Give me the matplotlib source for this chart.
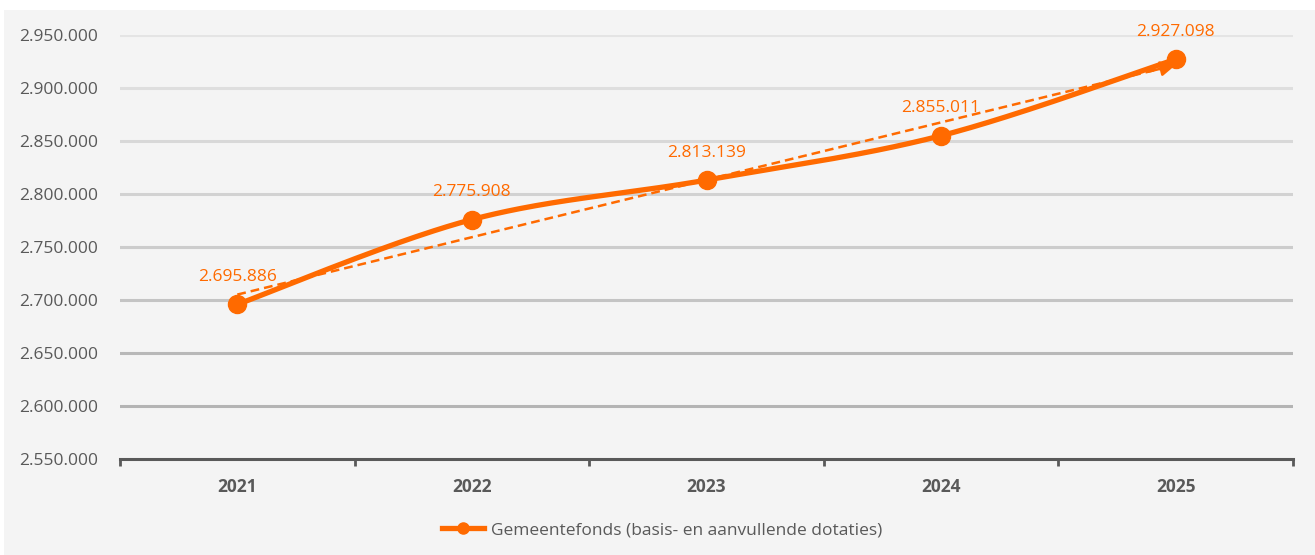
import numpy as np
import matplotlib
matplotlib.use("Agg")
import matplotlib.pyplot as plt
from matplotlib.patches import Rectangle
from matplotlib.lines import Line2D

# ---- data ----
years = ['2021', '2022', '2023', '2024', '2025']
values = [2695886, 2775908, 2813139, 2855011, 2927098]
value_labels = ['2.695.886', '2.775.908', '2.813.139', '2.855.011', '2.927.098']
yticks = [2550000, 2600000, 2650000, 2700000, 2750000, 2800000, 2850000, 2900000, 2950000]
ytick_labels = ['2.550.000', '2.600.000', '2.650.000', '2.700.000', '2.750.000',
                '2.800.000', '2.850.000', '2.900.000', '2.950.000']
series_name = 'Gemeentefonds (basis- en aanvullende dotaties)'

ORANGE = '#ff6a00'
GREY_TXT = '#595959'
FONT = 'Open Sans'
FS = 12.5

W, H = 1315, 555
fig = plt.figure(figsize=(W / 100, H / 100), dpi=100)
fig.patch.set_facecolor('white')
fig.patches.append(Rectangle((4 / W, 0), 1, (H - 10) / H, transform=fig.transFigure,
                             facecolor='#f4f4f4', edgecolor='none', zorder=-10))

ax = fig.add_axes([120 / W, (H - 459) / H, (1293 - 120) / W, (459 - 35) / H])
ax.set_facecolor('none')
x = np.arange(len(years))
ax.set_xlim(-0.5, len(years) - 0.5)
ax.set_ylim(yticks[0], yticks[-1])

# gridlines with gradient grey
grid_cols = ['#b4b4b4', '#b8b8b8', '#c4c4c4', '#cccccc', '#d2d2d2', '#d8d8d8', '#dedede', '#e4e4e4']
for yv, c in zip(yticks[1:], grid_cols):
    ax.axhline(yv, color=c, lw=2.2, zorder=1)

for s in ['top', 'right', 'left']:
    ax.spines[s].set_visible(False)
ax.spines['bottom'].set_color(GREY_TXT)
ax.spines['bottom'].set_linewidth(2.2)

ax.set_yticks(yticks)
ax.set_yticklabels(ytick_labels)
ax.tick_params(axis='y', length=0, pad=16, labelsize=FS, labelcolor=GREY_TXT)
ax.set_xticks(x)
ax.set_xticklabels(years)
ax.tick_params(axis='x', which='major', length=0, pad=14, labelsize=FS, labelcolor=GREY_TXT)
ax.set_xticks(np.arange(-0.5, len(years)), minor=True)
ax.tick_params(axis='x', which='minor', length=5, width=2, color=GREY_TXT)
for lab in ax.get_xticklabels():
    lab.set_fontweight('bold')
    lab.set_fontfamily(FONT)
for lab in ax.get_yticklabels():
    lab.set_fontfamily(FONT)

# smooth (Catmull-Rom) curve through points
xs = x.astype(float)
ys = np.array(values, dtype=float)
px = np.concatenate([[xs[0]], xs, [xs[-1]]])
py = np.concatenate([[ys[0]], ys, [ys[-1]]])
cx, cy = [], []
t = np.linspace(0, 1, 60)
for i in range(1, len(px) - 2):
    p0 = np.array([px[i], py[i]])
    p3 = np.array([px[i + 1], py[i + 1]])
    p1 = p0 + (np.array([px[i + 1], py[i + 1]]) - np.array([px[i - 1], py[i - 1]])) / 6
    p2 = p3 - (np.array([px[i + 2], py[i + 2]]) - np.array([px[i], py[i]])) / 6
    b = ((1 - t) ** 3)[:, None] * p0 + (3 * (1 - t) ** 2 * t)[:, None] * p1 + \
        (3 * (1 - t) * t ** 2)[:, None] * p2 + (t ** 3)[:, None] * p3
    cx.extend(b[:, 0]); cy.extend(b[:, 1])
ax.plot(cx, cy, color=ORANGE, lw=3.8, solid_capstyle='round', zorder=3, clip_on=False)
ax.plot(xs, ys, 'o', color=ORANGE, ms=13, zorder=4, clip_on=False)

# linear trendline with arrow
coef = np.polyfit(xs, ys, 1)
tx = np.array([xs[0], xs[-1]])
ty = np.polyval(coef, tx)
ax.plot(tx, ty, color=ORANGE, lw=1.8, ls=(0, (3.5, 2)), zorder=5)
xa = xs[-1] - 0.12
ax.annotate('', xy=(tx[1], ty[1]), xytext=(xa, np.polyval(coef, xa)),
            arrowprops=dict(arrowstyle='-|>,head_length=0.9,head_width=0.45', color=ORANGE,
                            lw=1.8, shrinkA=0, shrinkB=0), zorder=5)

# data labels
for xi, yi, lab in zip(xs, ys, value_labels):
    ax.annotate(lab, (xi, yi), xytext=(0, 14), textcoords='offset points', ha='center',
                va='bottom', color=ORANGE, fontsize=FS, fontfamily=FONT, zorder=6)

# legend
handle = Line2D([], [], color=ORANGE, lw=3.8, marker='o', ms=8)
leg = fig.legend([handle], [series_name], loc='center', bbox_to_anchor=(662 / W, (H - 530) / H),
                 frameon=False, handlelength=2.4, handletextpad=0.4,
                 prop={'family': FONT, 'size': FS})
for txt in leg.get_texts():
    txt.set_color(GREY_TXT)

fig.savefig('out.png', dpi=100, facecolor=fig.get_facecolor())
